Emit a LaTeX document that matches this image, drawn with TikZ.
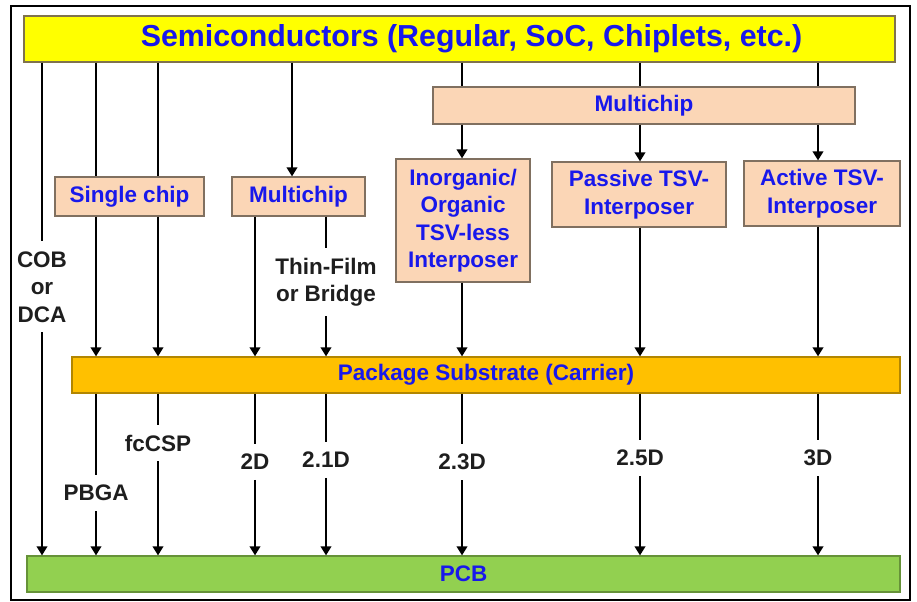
\documentclass[tikz,border=0pt]{standalone}
\usepackage{fontspec}
\setmainfont{Liberation Sans}
\definecolor{pkgblue}{RGB}{24,24,235}
\definecolor{pkgyellow}{RGB}{255,255,0}
\definecolor{pkgpeach}{RGB}{251,214,182}
\definecolor{pkgorange}{RGB}{255,192,0}
\definecolor{pkggreen}{RGB}{146,208,80}
\definecolor{pkgedge}{RGB}{128,112,96}
\definecolor{pkgtext}{RGB}{30,30,30}
\usetikzlibrary{arrows.meta,positioning}

\begin{document}
\begin{tikzpicture}[
  every node/.style={font=\fontsize{16}{19.5}\selectfont\bfseries},
  layerbox/.style={draw,line width=0.8pt,inner sep=0pt,text=pkgblue},
  typebox/.style={layerbox,fill=pkgpeach,draw=pkgedge,align=center},
  flowlbl/.style={text=pkgtext,align=center,inner xsep=2pt,inner ysep=7pt},
  wire/.style={line width=2pt,black},
  flow/.style={wire,-{Triangle[length=6.5pt,width=7.5pt]}},
]
  % page and frame
  \useasboundingbox (0,0) rectangle (22.925,15.05);
  \draw[line width=1.5pt] (0.275,0.05) rectangle (22.75,14.9);

  % layers
  \node[layerbox,fill=pkgyellow,draw=pkgedge!80!olive,minimum width=21.775cm,minimum height=1.15cm,
        font=\fontsize{21.6}{25}\selectfont\bfseries]
    (semi) at (11.4875,14.075) {\hspace*{0.6cm}Semiconductors (Regular, SoC, Chiplets, etc.)};
  \node[layerbox,fill=pkgorange,draw=pkgorange!70!black,minimum width=20.7cm,minimum height=0.9cm]
    (subst) at (12.15,5.675) {Package Substrate (Carrier)};
  \node[layerbox,fill=pkggreen,draw=pkggreen!70!black,minimum width=21.825cm,minimum height=0.9cm]
    (pcb) at (11.5875,0.7) {PCB};

  % chip boxes
  \node[typebox,minimum width=10.55cm,minimum height=0.925cm] (mctop) at (16.1,12.4125) {Multichip};
  \node[typebox,minimum width=3.725cm,minimum height=0.975cm] (single) at (3.2375,10.1375) {Single chip};
  \node[typebox,minimum width=3.325cm,minimum height=0.975cm] (mcleft) at (7.4625,10.1375) {Multichip};
  \node[typebox,minimum width=3.35cm,minimum height=3.075cm] (inorg) at (11.575,9.5375)
    {Inorganic/\\Organic\\TSV-less\\Interposer};
  \node[typebox,minimum width=4.35cm,minimum height=1.625cm] (passive) at (15.975,10.1875)
    {Passive TSV-\\Interposer};
  \node[typebox,minimum width=3.9cm,minimum height=1.625cm] (active) at (20.55,10.2125)
    {Active TSV-\\Interposer};

  % labels on the wires
  \node[flowlbl] (cob) at (1.05,7.875) {COB\\or\\DCA};
  \node[flowlbl] (thin) at (8.15,8.0) {Thin-Film\\or Bridge};
  \node[flowlbl] (pbga) at (2.4,2.725) {PBGA};
  \node[flowlbl] (fccsp) at (3.95,3.975) {fcCSP};
  \node[flowlbl] (d2) at (6.375,3.5) {2D};
  \node[flowlbl] (d21) at (8.15,3.55) {2.1D};
  \node[flowlbl] (d23) at (11.55,3.5) {2.3D};
  \node[flowlbl] (d25) at (16.0,3.6) {2.5D};
  \node[flowlbl] (d3) at (20.45,3.6) {3D};
  \coordinate (mcin) at (7.3,0);

  % COB / DCA
  \draw[wire] (semi.south -| cob.north) -- (cob.north);
  \draw[flow] (cob.south) -- (pcb.north -| cob.south);

  % single chip
  \draw[wire] (semi.south -| pbga.north) -- (single.north -| pbga.north);
  \draw[wire] (semi.south -| fccsp.north) -- (single.north -| fccsp.north);
  \draw[flow] (single.south -| pbga.north) -- (subst.north -| pbga.north);
  \draw[flow] (single.south -| fccsp.north) -- (subst.north -| fccsp.north);
  \draw[wire] (subst.south -| pbga.north) -- (pbga.north);
  \draw[flow] (pbga.south) -- (pcb.north -| pbga.south);
  \draw[wire] (subst.south -| fccsp.north) -- (fccsp.north);
  \draw[flow] (fccsp.south) -- (pcb.north -| fccsp.south);

  % multichip, 2D / 2.1D
  \draw[flow] (semi.south -| mcin) -- (mcleft.north -| mcin);
  \draw[flow] (mcleft.south -| d2.north) -- (subst.north -| d2.north);
  \draw[wire] (mcleft.south -| thin.north) -- (thin.north);
  \draw[flow] (thin.south) -- (subst.north -| thin.south);
  \draw[wire] (subst.south -| d2.north) -- (d2.north);
  \draw[flow] (d2.south) -- (pcb.north -| d2.south);
  \draw[wire] (subst.south -| d21.north) -- (d21.north);
  \draw[flow] (d21.south) -- (pcb.north -| d21.south);

  % interposers
  \draw[wire] (semi.south -| d23.north) -- (mctop.north -| d23.north);
  \draw[wire] (semi.south -| d25.north) -- (mctop.north -| d25.north);
  \draw[wire] (semi.south -| d3.north) -- (mctop.north -| d3.north);
  \draw[flow] (mctop.south -| d23.north) -- (inorg.north -| d23.north);
  \draw[flow] (mctop.south -| d25.north) -- (passive.north -| d25.north);
  \draw[flow] (mctop.south -| d3.north) -- (active.north -| d3.north);
  \draw[flow] (inorg.south -| d23.north) -- (subst.north -| d23.north);
  \draw[flow] (passive.south -| d25.north) -- (subst.north -| d25.north);
  \draw[flow] (active.south -| d3.north) -- (subst.north -| d3.north);
  \draw[wire] (subst.south -| d23.north) -- (d23.north);
  \draw[flow] (d23.south) -- (pcb.north -| d23.south);
  \draw[wire] (subst.south -| d25.north) -- (d25.north);
  \draw[flow] (d25.south) -- (pcb.north -| d25.south);
  \draw[wire] (subst.south -| d3.north) -- (d3.north);
  \draw[flow] (d3.south) -- (pcb.north -| d3.south);
\end{tikzpicture}
\end{document}
